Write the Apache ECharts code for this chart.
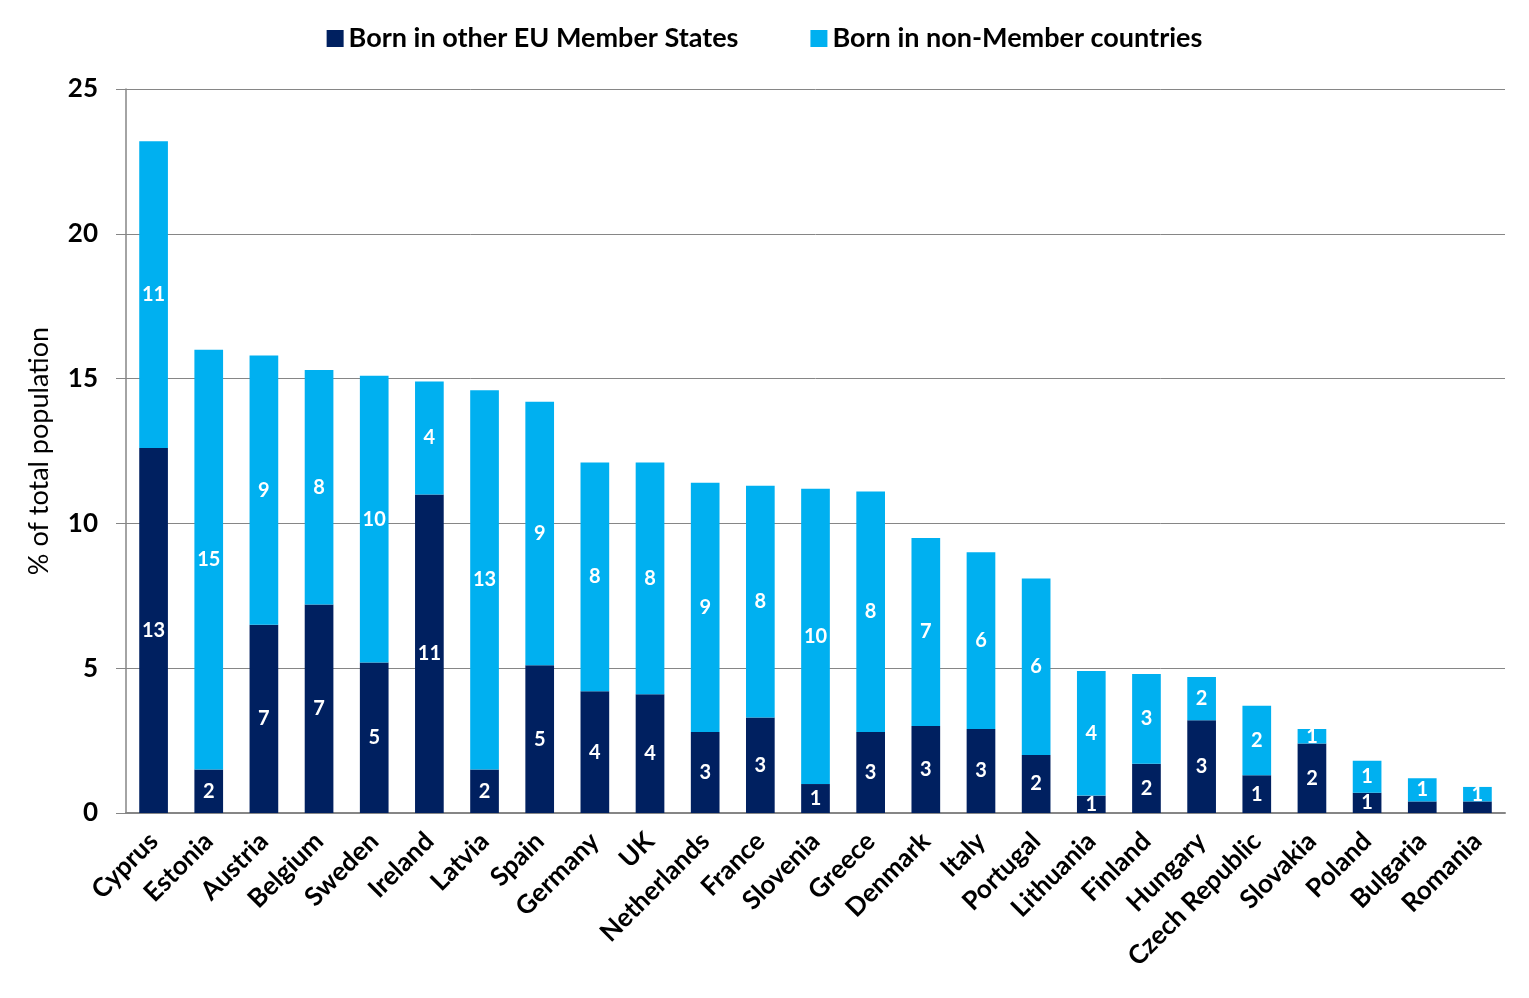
<!DOCTYPE html>
<html>
<head>
<meta charset="utf-8">
<script src="https://cdn.jsdelivr.net/npm/echarts@6/dist/echarts.min.js"></script>
<style>html,body{margin:0;padding:0;background:#fff}#c{width:1529px;height:998px}</style>
</head>
<body>
<div id="c"></div>
<script>
const categories = ["Cyprus","Estonia","Austria","Belgium","Sweden","Ireland","Latvia","Spain","Germany","UK","Netherlands","France","Slovenia","Greece","Denmark","Italy","Portugal","Lithuania","Finland","Hungary","Czech Republic","Slovakia","Poland","Bulgaria","Romania"];
const bornEU = [12.6,1.5,6.5,7.2,5.2,11.0,1.5,5.1,4.2,4.1,2.8,3.3,1.0,2.8,3.0,2.9,2.0,0.6,1.7,3.2,1.3,2.4,0.7,0.4,0.4];
const bornNonEU = [10.6,14.5,9.3,8.1,9.9,3.9,13.1,9.1,7.9,8.0,8.6,8.0,10.2,8.3,6.5,6.1,6.1,4.3,3.1,1.5,2.4,0.5,1.1,0.8,0.5];
const seriesNames = ["Born in other EU Member States","Born in non-Member countries"];
const yTicks = {min:0, max:25, interval:5};

const FONT = "Lato";
const lbl = {
  show: true, position: 'inside', color: '#fff', fontFamily: FONT, fontWeight: 'bold', fontSize: 20,
  formatter: p => { const r = Math.round(p.value); return r === 0 ? '' : String(r); }
};
const chart = echarts.init(document.getElementById('c'));
chart.setOption({
  animation: false,
  textStyle: {fontFamily: FONT},
  legend: {
    top: 20, left: 'center', itemGap: 72, itemWidth: 17, itemHeight: 17, icon: 'rect',
    textStyle: {fontFamily: FONT, fontSize: 27, color: '#000', fontWeight: 'bold'},
    data: seriesNames
  },
  grid: {left: 126, right: 24, top: 89, bottom: 185, containLabel: false},
  xAxis: {
    type: 'category', data: categories,
    axisLine: {lineStyle: {color: '#868686', width: 2}},
    axisTick: {show: false},
    axisLabel: {rotate: 45, interval: 0, fontFamily: FONT, fontWeight: 'bold', fontSize: 26, color: '#000', margin: 24}
  },
  yAxis: {
    type: 'value', min: yTicks.min, max: yTicks.max, interval: yTicks.interval,
    name: '% of total population', nameLocation: 'middle', nameGap: 73, nameRotate: 90,
    nameTextStyle: {fontFamily: FONT, fontSize: 27, color: '#000'},
    axisLine: {show: true, lineStyle: {color: '#868686', width: 1.5}},
    axisTick: {show: true, inside: false, length: 10, lineStyle: {color: '#868686'}},
    axisLabel: {fontFamily: FONT, fontWeight: 'bold', fontSize: 26, color: '#000', margin: 28},
    splitLine: {lineStyle: {color: '#868686', width: 1}}
  },
  series: [
    {name: seriesNames[0], type: 'bar', stack: 'a', data: bornEU, barWidth: '52%', itemStyle: {color: '#002060'}, label: lbl},
    {name: seriesNames[1], type: 'bar', stack: 'a', data: bornNonEU, barWidth: '52%', itemStyle: {color: '#00B0F0'}, label: lbl}
  ]
});
</script>
</body>
</html>
